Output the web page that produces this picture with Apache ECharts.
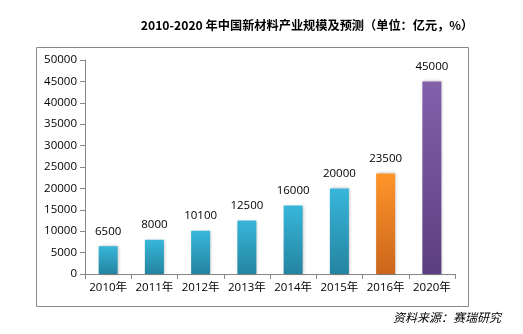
<!DOCTYPE html>
<html><head><meta charset="utf-8">
<script src="https://cdn.jsdelivr.net/npm/echarts@6/dist/echarts.min.js"></script>
<style>html,body{margin:0;padding:0;background:#fff}#c{width:523px;height:334px}</style>
</head><body><div id="c"></div>
<script>
var categories = ['2010年','2011年','2012年','2013年','2014年','2015年','2016年','2020年'];
var values = [6500, 8000, 10100, 12500, 16000, 20000, 23500, 45000];
var barColors = [
  ['#38B6DA','#2484A0'],['#38B6DA','#2484A0'],['#38B6DA','#2484A0'],['#38B6DA','#2484A0'],
  ['#38B6DA','#2484A0'],['#38B6DA','#2484A0'],['#FF952A','#CB661C'],['#8360AA','#5C3F80']
];
var chart = echarts.init(document.getElementById('c'));
var font = '"Noto Sans CJK SC", "Liberation Sans", sans-serif';
var numFont = '"Open Sans", "Noto Sans CJK SC", sans-serif';
chart.setOption({
  animation: false,
  textStyle: {fontFamily: font},
  title: {
    text: '2010-2020 年中国新材料产业规模及预测（单位：亿元，%）',
    left: 302, top: 14, textAlign: 'center',
    textStyle: {fontSize: 12.2, fontWeight: 'bold', color: '#000', fontFamily: font}
  },
  graphic: [
    {type: 'rect', shape: {x: 36.5, y: 47.5, width: 432, height: 259}, style: {fill: 'none', stroke: '#888', lineWidth: 1}, silent: true},
    {type: 'text', left: 393, top: 311, style: {text: '资料来源：赛瑞研究', font: 'italic 12px ' + font, fill: '#000'}}
  ],
  grid: {left: 85, right: 68, top: 60, bottom: 60, containLabel: false},
  xAxis: {
    type: 'category', data: categories,
    axisLine: {lineStyle: {color: '#868686'}},
    axisTick: {show: true, alignWithLabel: false, interval: 0, lineStyle: {color: '#868686'}, length: 5},
    axisLabel: {color: '#000', fontSize: 11.5, margin: 8, interval: 0, fontFamily: numFont}
  },
  yAxis: {
    type: 'value', min: 0, max: 50000, interval: 5000,
    axisLine: {show: true, lineStyle: {color: '#868686'}},
    axisTick: {show: true, lineStyle: {color: '#868686'}, length: 5},
    splitLine: {show: false},
    axisLabel: {color: '#000', fontSize: 11.5, margin: 8, fontFamily: numFont, formatter: function (v) { return String(v); }}
  },
  series: [{
    type: 'bar', barWidth: 19,
    data: values.map(function (v, i) {
      return {value: v, itemStyle: {color: new echarts.graphic.LinearGradient(0, 0, 0, 1, [
        {offset: 0, color: barColors[i][0]}, {offset: 1, color: barColors[i][1]}]),
        shadowColor: 'rgba(0,0,0,0.25)', shadowBlur: 3, shadowOffsetX: 1, shadowOffsetY: 0}};
    }),
    label: {show: true, position: 'top', distance: 9, color: '#000', fontSize: 11.5, fontFamily: numFont}
  }]
});
</script></body></html>
